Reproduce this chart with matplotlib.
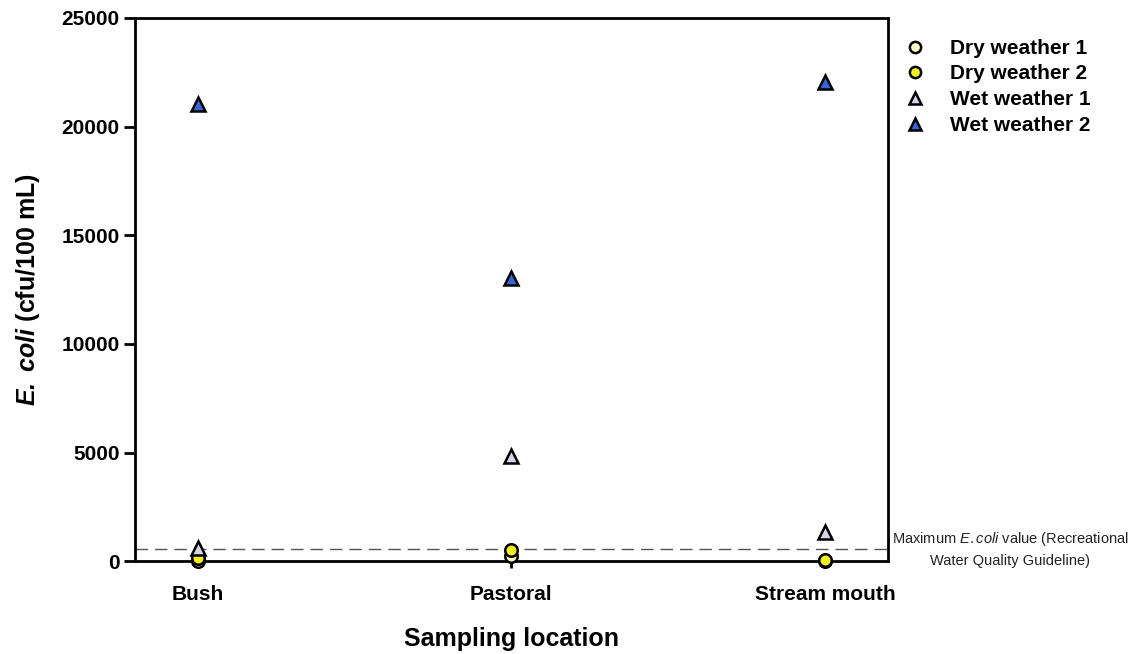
import numpy as np
import matplotlib
matplotlib.use('Agg')
from matplotlib import pyplot as plt

plt.rcParams['font.family'] = ['Liberation Sans', 'DejaVu Sans']
plt.rcParams['mathtext.fontset'] = 'custom'
plt.rcParams['mathtext.it'] = 'Liberation Sans:italic'
plt.rcParams['mathtext.bfit'] = 'Liberation Sans:italic:bold'
plt.rcParams['mathtext.bf'] = 'Liberation Sans:bold'
plt.rcParams['mathtext.rm'] = 'Liberation Sans'

locations = ['Bush', 'Pastoral', 'Stream mouth']
dry1 = [20, 250, 10]
dry2 = [150, 500, 50]
wet1 = [600, 4830, 1330]
wet2 = [21050, 13050, 22050]
guideline = 550

series = [
    ('Dry weather 1', dry1, 'o', '#FFFFC8', 9),
    ('Dry weather 2', dry2, 'o', '#F0F020', 9),
    ('Wet weather 1', wet1, '^', '#D4D4EC', 10),
    ('Wet weather 2', wet2, '^', '#3566D6', 10),
]

fig = plt.figure(figsize=(11.34, 6.54), dpi=100)
ax = fig.add_axes([0.119, 0.142, 0.664, 0.8305])

x = np.arange(len(locations))
ax.axhline(guideline, color='#555555', lw=1, ls=(0, (9, 5)), zorder=1)

for name, vals, mk, col, ms in series:
    ax.plot(x, vals, ls='none', marker=mk, ms=ms, mfc=col, mec='black',
            mew=1.8, label=name, clip_on=False, zorder=3)

ax.set_xlim(-0.2, 2.2)
ax.set_ylim(0, 25000)
ax.set_yticks(np.arange(0, 25001, 5000))
ax.set_xticks(x)
ax.set_xticklabels(locations)
for s in ax.spines.values():
    s.set_linewidth(2)
ax.tick_params(axis='both', width=2, length=8, direction='out', labelsize=15)
ax.tick_params(axis='y', pad=3)
ax.tick_params(axis='x', length=5, pad=12)
for lbl in ax.get_xticklabels() + ax.get_yticklabels():
    lbl.set_fontweight('bold')

ax.set_xlabel('Sampling location', fontsize=18, fontweight='bold', labelpad=17)
ax.set_ylabel(r'$\mathbfit{E.\ coli}$ (cfu/100 mL)', fontsize=18,
              fontweight='bold', labelpad=14)

fig.text(1010 / 1134, 1 - 549 / 654,
         'Maximum $\\mathit{E.coli}$ value (Recreational\nWater Quality Guideline)',
         fontsize=10.5, ha='center', va='center', linespacing=1.55, color='#222222')

leg = ax.legend(loc='upper left', bbox_to_anchor=(1.008, 0.977), frameon=False,
                prop={'weight': 'bold', 'size': 15}, handletextpad=1.1,
                labelspacing=0.32, handlelength=1.2, borderaxespad=0,
                markerscale=0.9)

fig.savefig('out.png', dpi=100)
